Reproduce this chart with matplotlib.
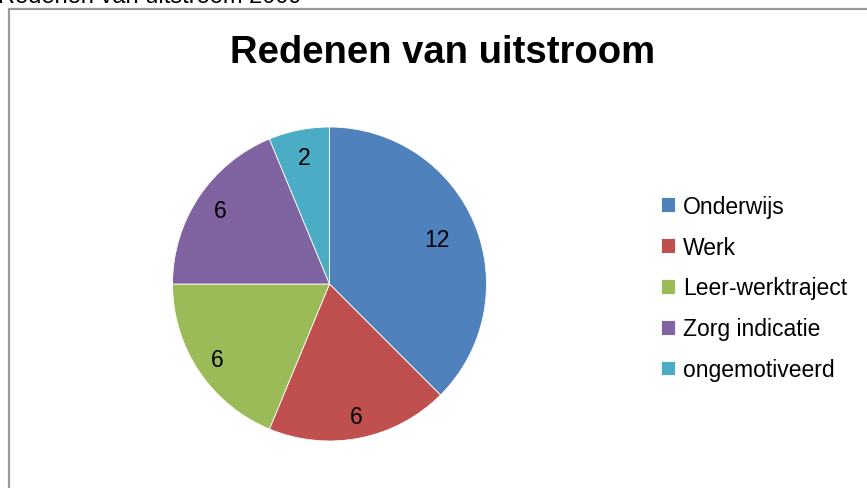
import matplotlib
matplotlib.use("Agg")
import matplotlib.pyplot as plt
from matplotlib.patches import Rectangle
import numpy as np

# data
categories = ["Onderwijs", "Werk", "Leer-werktraject", "Zorg indicatie", "ongemotiveerd"]
counts = [12, 6, 6, 6, 2]
colors = ["#4F81BD", "#C0504D", "#9BBB59", "#8064A2", "#4BACC6"]
label_dist = [0.74, 0.86, 0.86, 0.84, 0.82]  # excel "best fit" label spots

plt.rcParams["font.family"] = ["Liberation Sans", "DejaVu Sans"]

W, H = 867, 489
fig = plt.figure(figsize=(W / 100, H / 100), dpi=100)
fig.set_facecolor("white")

# chart frame (cropped screenshot of a sheet)
fig.patches.append(Rectangle((8.5 / W, -0.1), 1.0, (H - 9.5) / H + 0.1,
                             transform=fig.transFigure, fill=False,
                             edgecolor="#9a9a9a", linewidth=1.6))

# sheet heading, mostly cut off at the top
fig.text(-0.002, 1 - 3 / H, "Redenen van uitstroom 2009", fontsize=17,
         ha="left", va="baseline", color="black")

fig.text(443 / W, 1 - 53 / H, "Redenen van uitstroom", fontsize=27.5,
         fontweight="bold", ha="center", va="center")

cx, cy, r = 329.5, 285, 157
ax = fig.add_axes([(cx - r) / W, (H - cy - r) / H, 2 * r / W, 2 * r / H])
wedges, _ = ax.pie(counts, colors=colors, startangle=90, counterclock=False,
                   radius=1, wedgeprops=dict(edgecolor="white", linewidth=0.6))
ax.set_xlim(-1, 1)
ax.set_ylim(-1, 1)
ax.set_aspect("equal")
ax.axis("off")

for w, n, d in zip(wedges, counts, label_dist):
    ang = np.deg2rad((w.theta1 + w.theta2) / 2)
    ax.text(d * np.cos(ang), d * np.sin(ang), str(n), fontsize=16.5,
            ha="center", va="center")

fig.legend(wedges, categories, loc="center left",
           bbox_to_anchor=(650 / W, 1 - 289 / H), frameon=False,
           fontsize=16.5, handlelength=0.6, handleheight=0.6,
           handletextpad=0.35, labelspacing=0.78, borderpad=0)

fig.savefig("out.png", dpi=100, facecolor="white")
